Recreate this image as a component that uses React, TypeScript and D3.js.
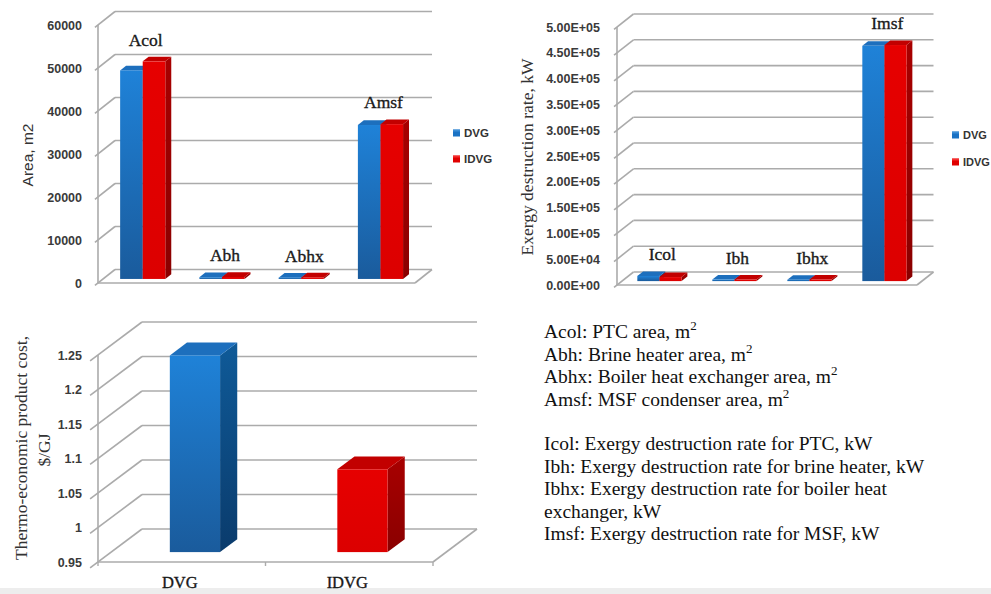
import React from "react";
import * as d3 from "d3";

// ---- data ----
const seriesNames = ["DVG", "IDVG"];

const areaCategories = ["Acol", "Abh", "Abhx", "Amsf"];
const areaDVG = [48500, 400, 300, 35800];
const areaIDVG = [50600, 450, 350, 36000];
const areaTicks = [0, 10000, 20000, 30000, 40000, 50000, 60000];

const exergyCategories = ["Icol", "Ibh", "Ibhx", "Imsf"];
const exergyDVG = [10000, 3000, 2500, 456000];
const exergyIDVG = [7800, 3000, 3000, 457500];
const exergyTicks = [0, 50000, 100000, 150000, 200000, 250000, 300000, 350000, 400000, 450000, 500000];

const costCategories = ["DVG", "IDVG"];
const costValues = [1.235, 1.07];
const costTicks = [0.95, 1, 1.05, 1.1, 1.15, 1.2, 1.25];

const areaNotes = [
  "Acol: PTC area, m",
  "Abh: Brine heater area, m",
  "Abhx: Boiler heat exchanger area, m",
  "Amsf: MSF condenser area, m",
];
const exergyNotes = [
  "Icol: Exergy destruction rate for PTC, kW",
  "Ibh: Exergy destruction rate for brine heater, kW",
  "Ibhx: Exergy destruction rate for boiler heat",
  "exchanger, kW",
  "Imsf: Exergy destruction rate for MSF, kW",
];

const SANS = "'Liberation Sans', Arial, sans-serif";
const SERIF = "'Liberation Serif', 'Times New Roman', serif";
const GRID = "#ababab";

const sciFormat = (v: number) => {
  if (v === 0) return "0.00E+00";
  const e = Math.floor(Math.log10(v));
  const m = v / Math.pow(10, e);
  return `${m.toFixed(2)}E+${String(e).padStart(2, "0")}`;
};

type Palette = { front: string; side: string; top: string };
const palettes: Palette[] = [
  { front: "url(#blueFront)", side: "url(#blueSide)", top: "#1d6fbd" },
  { front: "url(#redFront)", side: "url(#redSide)", top: "#c20000" },
];

type ChartProps = {
  x0: number;
  x1: number;
  yBottom: number;
  yTop: number;
  domain: [number, number];
  dx: number;
  dy: number;
  categories: string[];
  series: number[][];
  paletteFor: (seriesIndex: number, categoryIndex: number) => Palette;
  ticks: number[];
  tickFormat: (v: number) => string;
  tickLabelX: number;
  groupFrac: number;
  depth: [number, number];
  labelsAbove: boolean;
};

function Chart3D(p: ChartProps) {
  const y = d3.scaleLinear().domain(p.domain).range([p.yBottom, p.yTop]);
  const band = d3.scaleBand<string>().domain(p.categories).range([p.x0, p.x1]).padding(0);
  const bw = band.bandwidth();
  const groupW = bw * p.groupFrac;
  const inner = d3
    .scaleBand<number>()
    .domain(d3.range(p.series.length))
    .range([0, groupW])
    .padding(0);
  const [d0, d1] = p.depth;
  const { dx, dy } = p;
  const y0 = y(p.domain[0]);

  const grid = p.ticks.map((t, i) => {
    const yy = y(t);
    return (
      <g key={"g" + i}>
        <line x1={p.x0 + dx} x2={p.x1 + dx} y1={yy + dy} y2={yy + dy} stroke={GRID} strokeWidth={1.6} />
        <line
          x1={p.x0 - dx * 0.18}
          y1={yy - dy * 0.18}
          x2={p.x0 + dx}
          y2={yy + dy}
          stroke={GRID}
          strokeWidth={1.6}
        />
        <text
          x={p.tickLabelX}
          y={yy}
          dy="0.36em"
          textAnchor="end"
          fontFamily={SANS}
          fontWeight="bold"
          fontSize={12.5}
          fill="#3a3a3a"
        >
          {p.tickFormat(t)}
        </text>
      </g>
    );
  });

  const bars: React.ReactNode[] = [];
  const labels: React.ReactNode[] = [];
  p.categories.forEach((c, ci) => {
    const gx = (band(c) as number) + (bw - groupW) / 2;
    let topMost = Infinity;
    p.series.forEach((vals, si) => {
      const v = vals[ci];
      const xa = gx + (inner(si) as number);
      const xb = xa + inner.bandwidth();
      const yv = y(v);
      const pal = p.paletteFor(si, ci);
      const F = (x: number, yy: number, d: number) => `${x + dx * d},${yy + dy * d}`;
      topMost = Math.min(topMost, yv + dy * d1);
      bars.push(
        <g key={`b${ci}-${si}`}>
          <polygon
            points={[F(xb, yv, d0), F(xb, yv, d1), F(xb, y0, d1), F(xb, y0, d0)].join(" ")}
            fill={pal.side}
          />
          <polygon
            points={[F(xa, yv, d0), F(xb, yv, d0), F(xb, yv, d1), F(xa, yv, d1)].join(" ")}
            fill={pal.top}
          />
          <rect
            x={xa + dx * d0}
            y={yv + dy * d0}
            width={xb - xa}
            height={Math.max(0, y0 - yv)}
            fill={pal.front}
          />
        </g>
      );
    });
    if (p.labelsAbove) {
      labels.push(
        <text
          key={"l" + ci}
          x={gx + groupW / 2 + dx * (d0 + d1) / 2}
          y={topMost - 11}
          textAnchor="middle"
          fontFamily={SERIF}
          fontSize={17.5}
          fill="#1a1a1a"
          stroke="#1a1a1a"
          strokeWidth={0.35}
        >
          {c}
        </text>
      );
    }
  });

  return (
    <g>
      {grid}
      {/* front axis and floor */}
      <line x1={p.x0} x2={p.x0} y1={p.yTop} y2={y0} stroke={GRID} strokeWidth={1.6} />
      <line x1={p.x0} x2={p.x1} y1={y0} y2={y0} stroke={GRID} strokeWidth={1.6} />
      <line x1={p.x1} x2={p.x1 + dx} y1={y0} y2={y0 + dy} stroke={GRID} strokeWidth={1.6} />
      {bars}
      {labels}
    </g>
  );
}

function Legend({ x, y, gap, size }: { x: number; y: number; gap: number; size: number }) {
  return (
    <g>
      {seriesNames.map((s, i) => (
        <g key={s}>
          <rect x={x} y={y + i * gap - 3.5} width={7} height={7} fill={i === 0 ? "#1a72c4" : "#e00000"} />
          <rect x={x} y={y + i * gap - 3.5} width={7} height={2} fill={i === 0 ? "#4a9ae0" : "#ff4040"} opacity={0.7} />
          <text
            x={x + 11}
            y={y + i * gap}
            dy="0.36em"
            fontFamily={SANS}
            fontWeight="bold"
            fontSize={size}
            fill="#333"
          >
            {s}
          </text>
        </g>
      ))}
    </g>
  );
}

export default function App() {
  const costBand = d3.scaleBand<string>().domain(costCategories).range([98, 433]);
  return (
    <svg
      width={991}
      height={594}
      viewBox="0 0 991 594"
      style={{ position: "absolute", left: 0, top: 0, background: "#fff" }}
    >
      <defs>
        <linearGradient id="blueFront" x1="0" y1="0" x2="0" y2="1">
          <stop offset="0" stopColor="#1f82d8" />
          <stop offset="1" stopColor="#1a5b9c" />
        </linearGradient>
        <linearGradient id="blueSide" x1="0" y1="0" x2="0" y2="1">
          <stop offset="0" stopColor="#0f5a98" />
          <stop offset="1" stopColor="#0a3b6c" />
        </linearGradient>
        <linearGradient id="redFront" x1="0" y1="0" x2="0" y2="1">
          <stop offset="0" stopColor="#e60000" />
          <stop offset="1" stopColor="#dc0000" />
        </linearGradient>
        <linearGradient id="redSide" x1="0" y1="0" x2="0" y2="1">
          <stop offset="0" stopColor="#a80000" />
          <stop offset="1" stopColor="#8a0000" />
        </linearGradient>
      </defs>

      <rect x={0} y={588} width={991} height={6} fill="#ededed" />

      {/* Area chart */}
      <Chart3D
        x0={98}
        x1={415}
        yBottom={283}
        yTop={25}
        domain={[0, 60000]}
        dx={17}
        dy={-13.5}
        categories={areaCategories}
        series={[areaDVG, areaIDVG]}
        paletteFor={(si) => palettes[si]}
        ticks={areaTicks}
        tickFormat={(v) => String(v)}
        tickLabelX={82}
        groupFrac={0.57}
        depth={[0.3, 0.65]}
        labelsAbove={true}
      />
      <text
        transform="translate(33,155) rotate(-90)"
        textAnchor="middle"
        fontFamily={SANS}
        fontSize={15.5}
        fill="#333"
      >
        Area, m2
      </text>
      <Legend x={453} y={133} gap={26} size={11.5} />

      {/* Exergy destruction chart */}
      <Chart3D
        x0={617}
        x1={917}
        yBottom={285}
        yTop={27}
        domain={[0, 500000]}
        dx={16.5}
        dy={-13}
        categories={exergyCategories}
        series={[exergyDVG, exergyIDVG]}
        paletteFor={(si) => palettes[si]}
        ticks={exergyTicks}
        tickFormat={sciFormat}
        tickLabelX={600}
        groupFrac={0.59}
        depth={[0.3, 0.65]}
        labelsAbove={true}
      />
      <text
        transform="translate(533,157) rotate(-90)"
        textAnchor="middle"
        fontFamily={SERIF}
        fontSize={17.5}
        fill="#333"
      >
        Exergy destruction rate, kW
      </text>
      <Legend x={952} y={135} gap={27} size={11} />

      {/* Thermo-economic product cost chart */}
      <Chart3D
        x0={98}
        x1={433}
        yBottom={562}
        yTop={355}
        domain={[0.95, 1.25]}
        dx={44}
        dy={-33}
        categories={costCategories}
        series={[costValues]}
        paletteFor={(_si, ci) => palettes[ci]}
        ticks={costTicks}
        tickFormat={(v) => String(v)}
        tickLabelX={82}
        groupFrac={0.3}
        depth={[0.3, 0.69]}
        labelsAbove={false}
      />
      {costCategories.map((c) => {
        const bx = costBand(c) as number;
        const cx = bx + costBand.bandwidth() / 2;
        return (
          <g key={c}>
            <line x1={bx} x2={bx} y1={562} y2={566} stroke={GRID} strokeWidth={1.4} />
            <text
              x={cx - 2}
              y={588}
              textAnchor="middle"
              fontFamily={SERIF}
              fontSize={16.5}
              fill="#1a1a1a"
              stroke="#1a1a1a"
              strokeWidth={0.35}
            >
              {c}
            </text>
          </g>
        );
      })}
      <line x1={433} x2={433} y1={562} y2={566} stroke={GRID} strokeWidth={1.4} />
      <text
        transform="translate(27,448) rotate(-90)"
        textAnchor="middle"
        fontFamily={SERIF}
        fontSize={17.5}
        fill="#333"
      >
        Thermo-economic product cost,
      </text>
      <text
        transform="translate(50,450) rotate(-90)"
        textAnchor="middle"
        fontFamily={SERIF}
        fontSize={17.5}
        fill="#333"
      >
        $/GJ
      </text>

      {/* notes */}
      <g fontFamily={SERIF} fontSize={19.5} fill="#111">
        {areaNotes.map((t, i) => (
          <text key={t} x={544} y={338 + i * 22.5}>
            {t}
            <tspan dy={-8} fontSize={13}>2</tspan>
          </text>
        ))}
        {exergyNotes.map((t, i) => (
          <text key={t} x={544} y={450 + i * 22.5}>
            {t}
          </text>
        ))}
      </g>
    </svg>
  );
}
